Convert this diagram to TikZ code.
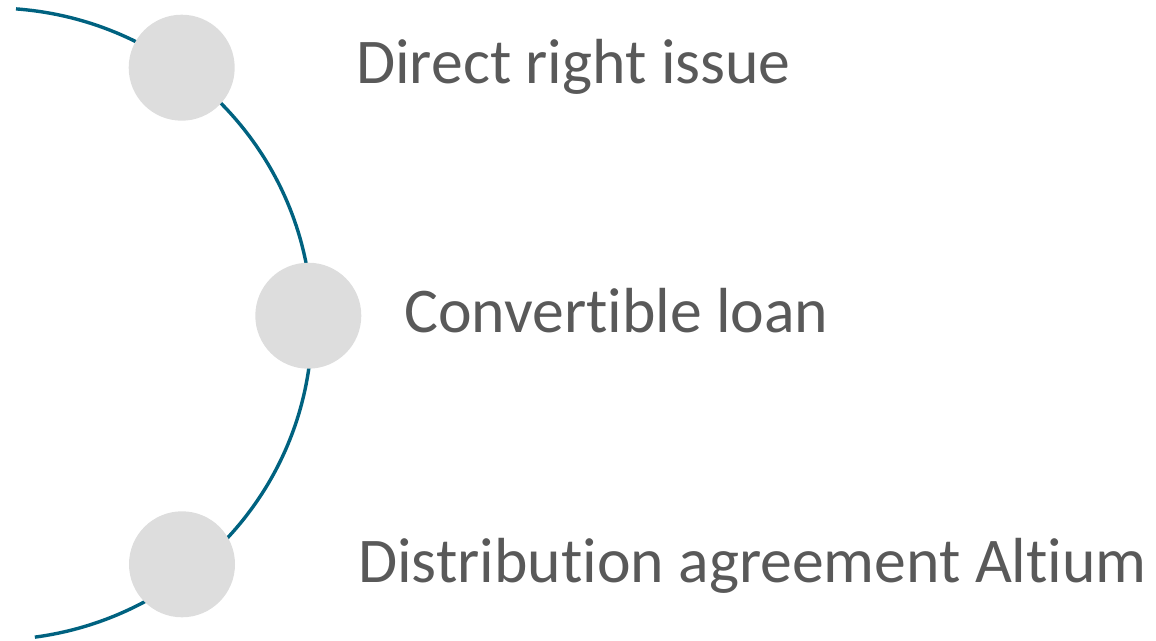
\documentclass[tikz,border=0pt]{standalone}
\usepackage{fontspec}
\setmainfont{Carlito}[Ligatures=NoCommon]
\definecolor{arcteal}{RGB}{0,98,128}
\definecolor{dotgray}{RGB}{221,221,221}
\definecolor{labelgray}{RGB}{89,89,89}
\begin{document}
\begin{tikzpicture}[x=1pt,y=1pt,
  dot/.style={circle,fill=dotgray,draw=none,minimum size=106pt,inner sep=0pt},
  label/.style={anchor=base west,inner sep=0pt,text=labelgray,
    font=\fontsize{63.7}{76}\selectfont}]
  \useasboundingbox (0,0) rectangle (1156,640);
  % curved guide line behind the dots
  \draw[arcteal,line width=3.4pt]
    (-8,316) ++(85.7:320 and 316)
    arc[start angle=85.7,end angle=-82.3,x radius=320,y radius=316];
  % dots along the curve
  \node[dot] (c1) at (181.7,572.3) {};
  \node[dot] (c2) at (308.3,324.3) {};
  \node[dot] (c3) at (182,75.7) {};
  % labels
  \node[label] (t1) at (356,556) {Direct right issue};
  \node[label] (t2) at (404,307) {Convertible loan};
  \node[label] (t3) at (358,58) {Distribution agreement Altium};
\end{tikzpicture}
\end{document}
